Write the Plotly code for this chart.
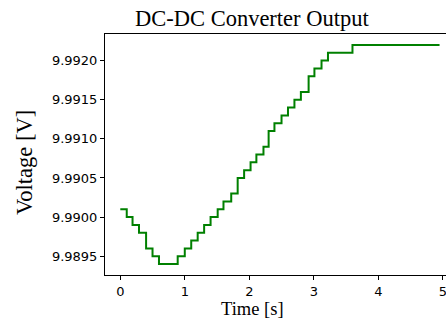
import plotly.graph_objects as go

# change points of the step signal (time [s], voltage [V])
time_s = [0.0, 0.1, 0.19, 0.29, 0.4, 0.5, 0.6, 0.89, 1.0, 1.1, 1.2, 1.3, 1.4, 1.51,
          1.6, 1.72, 1.82, 1.92, 2.02, 2.11, 2.22, 2.3, 2.39, 2.5, 2.6, 2.7, 2.8,
          2.92, 3.01, 3.12, 3.22, 3.6, 4.95]
voltage = [9.9901, 9.9900, 9.9899, 9.9898, 9.9896, 9.9895, 9.9894, 9.9895, 9.9896,
           9.9897, 9.9898, 9.9899, 9.9900, 9.9901, 9.9902, 9.9903, 9.9905, 9.9906,
           9.9907, 9.9908, 9.9909, 9.9911, 9.9912, 9.9913, 9.9914, 9.9915, 9.9916,
           9.9918, 9.9919, 9.9920, 9.9921, 9.9922, 9.9922]

x_ticks = [0, 1, 2, 3, 4, 5]
y_ticks = [9.9895, 9.9900, 9.9905, 9.9910, 9.9915, 9.9920]

title_text = "DC-DC Converter Output"
x_label = "Time [s]"
y_label = "Voltage [V]"

W, H = 446, 322

fig = go.Figure()
fig.add_trace(go.Scatter(x=time_s, y=voltage, mode="lines", line_shape="hv",
                         line=dict(color="#008000", width=2), showlegend=False))

serif = "Liberation Serif, Times New Roman, serif"
sans = "DejaVu Sans, sans-serif"

fig.update_layout(
    width=W, height=H,
    margin=dict(l=105, r=0, t=34, b=47),
    paper_bgcolor="white", plot_bgcolor="white",
    xaxis=dict(range=[-0.237, 5.05], tickvals=x_ticks, ticktext=[str(v) for v in x_ticks],
               showgrid=False, zeroline=False, showline=True, linecolor="black", linewidth=1,
               mirror=True, ticks="outside", ticklen=4, tickcolor="black",
               ticklabeloverflow="allow",
               tickfont=dict(family=sans, size=13, color="black")),
    yaxis=dict(range=[9.98926, 9.99234], tickvals=y_ticks,
               ticktext=[f"{v:.4f}" for v in y_ticks],
               showgrid=False, zeroline=False, showline=True, linecolor="black", linewidth=1,
               mirror=False, ticks="outside", ticklen=4, tickcolor="black",
               tickfont=dict(family=sans, size=13, color="black")),
    annotations=[
        dict(text=title_text, xref="paper", yref="paper", showarrow=False,
             x=(252 - 105) / (W - 105), y=1 + (34 - 18) / (H - 34 - 47),
             xanchor="center", yanchor="middle",
             font=dict(family=serif, size=22.5, color="black")),
        dict(text=x_label, xref="paper", yref="paper", showarrow=False,
             x=(252.5 - 105) / (W - 105), y=-(308.5 - 275) / (H - 34 - 47),
             xanchor="center", yanchor="middle",
             font=dict(family=serif, size=18.5, color="black")),
        dict(text=y_label, xref="paper", yref="paper", showarrow=False, textangle=-90,
             x=-(105 - 24) / (W - 105), y=(275 - 163) / (H - 34 - 47),
             xanchor="center", yanchor="middle",
             font=dict(family=serif, size=22.5, color="black")),
    ],
)

fig.write_html("out.html")
